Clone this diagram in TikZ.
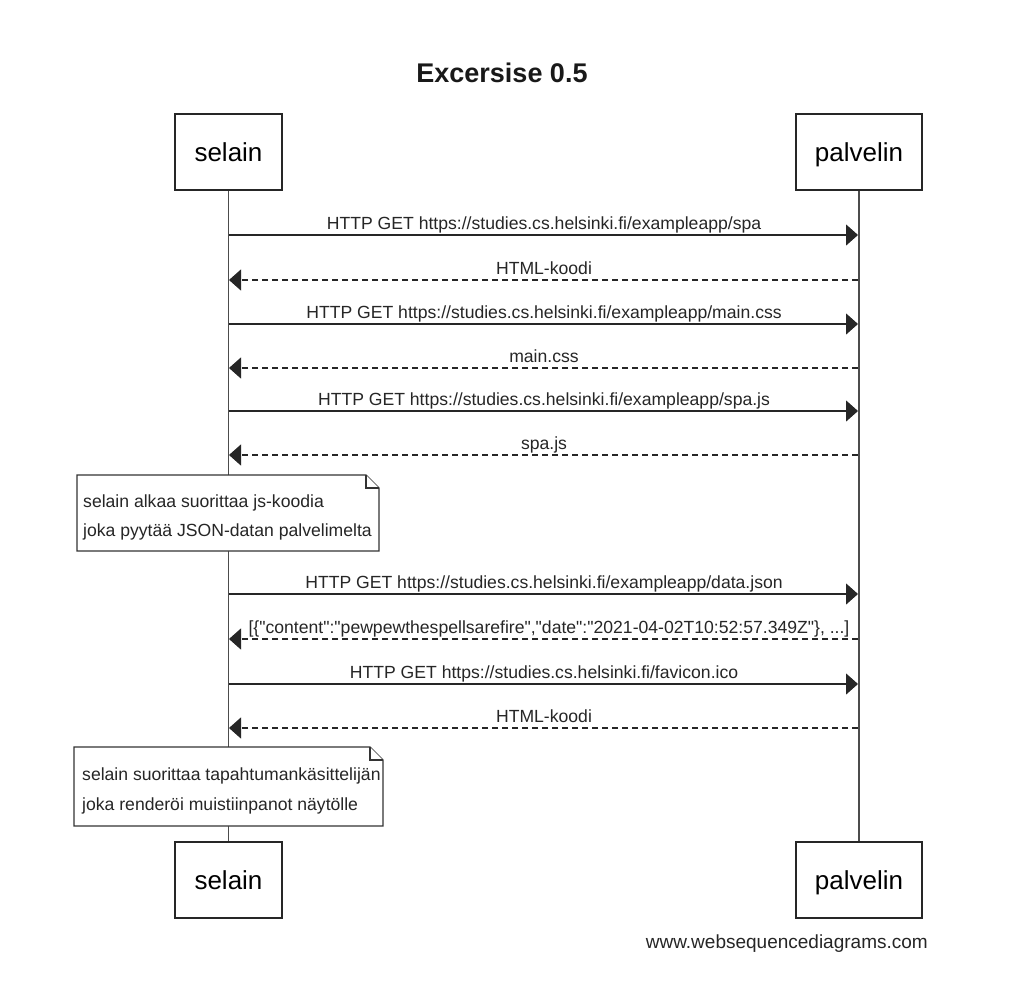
\documentclass[tikz,border=0pt]{standalone}
\usepackage{fontspec}
\setmainfont{Liberation Sans}
\newfontfamily\plainsans{Liberation Sans}
\usetikzlibrary{arrows.meta}
\begin{document}
\begin{tikzpicture}[x=1pt,y=-1pt,
  actor/.style={draw=black!85, line width=1.3pt, minimum height=76pt, inner sep=0pt, text height=19pt, text depth=0pt, font=\fontsize{26}{30}\selectfont},
  msg/.style={line width=1.2pt, draw=black!85, -{Triangle[length=12pt,width=21pt]}},
  reply/.style={msg, dash pattern=on 6pt off 4pt},
  lbl/.style={anchor=base, font=\plainsans\fontsize{17.6}{20}\selectfont, inner sep=0pt, text=black!85},
  life/.style={line width=1.8pt, draw=black!70},
  notebox/.style={draw=black!80, line width=1.2pt, fill=white},
  notetext/.style={anchor=base west, font=\fontsize{17.6}{20}\selectfont, inner sep=0pt, text=black!85}]
\useasboundingbox (0,0) rectangle (1012,1001);
\fill[white] (0,0) rectangle (1012,1001);

\node[font=\bfseries\fontsize{27}{32}\selectfont, text=black!90] (title) at (502,73) {Excersise 0.5};

\node[actor, minimum width=107pt] (st) at (228.5,152) {selain};
\node[actor, minimum width=126pt] (pt) at (859,152) {palvelin};
\node[actor, minimum width=107pt] (sb) at (228.5,880) {selain};
\node[actor, minimum width=126pt] (pb) at (859,880) {palvelin};

\draw[life] (st.south) -- (sb.north);
\draw[life] (pt.south) -- (pb.north);

\foreach \i/\y in {1/235,2/280,3/324,4/368,5/411,6/455,7/594,8/639,9/684,10/728}{
  \coordinate (s\i) at (229,\y);
  \coordinate (p\i) at (858,\y);
}

\draw[msg] (s1) -- (p1);
\node[lbl] (l1) at (544,229) {HTTP GET https://studies.cs.helsinki.fi/exampleapp/spa};
\draw[reply] (p2) -- (s2);
\node[lbl] (l2) at (544,274) {HTML-koodi};
\draw[msg] (s3) -- (p3);
\node[lbl] (l3) at (544,318) {HTTP GET https://studies.cs.helsinki.fi/exampleapp/main.css};
\draw[reply] (p4) -- (s4);
\node[lbl] (l4) at (544,362) {main.css};
\draw[msg] (s5) -- (p5);
\node[lbl] (l5) at (544,405) {HTTP GET https://studies.cs.helsinki.fi/exampleapp/spa.js};
\draw[reply] (p6) -- (s6);
\node[lbl] (l6) at (544,449) {spa.js};

\draw[notebox] (77,475) -- (366,475) -- (379,488) -- (379,551) -- (77,551) -- cycle;
\draw[notebox] (366,475) -- (366,488) -- (379,488);
\node[notetext] (n1a) at (83,507) {selain alkaa suorittaa js-koodia};
\node[notetext] (n1b) at (83,536) {joka pyytää JSON-datan palvelimelta};

\draw[msg] (s7) -- (p7);
\node[lbl] (l7) at (544,588) {HTTP GET https://studies.cs.helsinki.fi/exampleapp/data.json};
\draw[reply] (p8) -- (s8);
\node[lbl] (l8) at (549,633) {[\{"content":"pewpewthespellsarefire","date":"2021-04-02T10:52:57.349Z"\}, ...]};
\draw[msg] (s9) -- (p9);
\node[lbl] (l9) at (544,678) {HTTP GET https://studies.cs.helsinki.fi/favicon.ico};
\draw[reply] (p10) -- (s10);
\node[lbl] (l10) at (544,722) {HTML-koodi};

\draw[notebox] (74,747) -- (370,747) -- (383,760) -- (383,826) -- (74,826) -- cycle;
\draw[notebox] (370,747) -- (370,760) -- (383,760);
\node[notetext] (n2a) at (82,780) {selain suorittaa tapahtumankäsittelijän};
\node[notetext] (n2b) at (82,810) {joka renderöi muistiinpanot näytölle};

\node[anchor=base east, font=\fontsize{19}{22}\selectfont, inner sep=0pt, text=black!85] (footer) at (928,948) {www.websequencediagrams.com};
\end{tikzpicture}
\end{document}
